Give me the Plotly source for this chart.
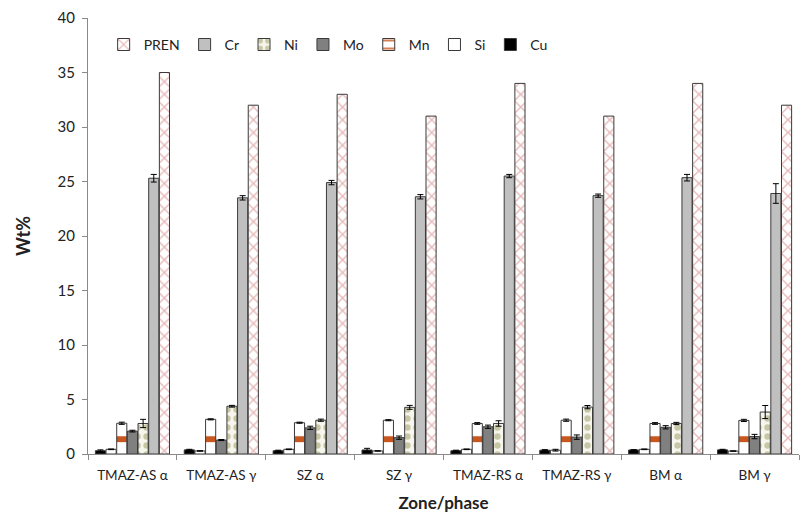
import plotly.graph_objects as go

zones = ["TMAZ-AS α", "TMAZ-AS γ", "SZ α", "SZ γ", "TMAZ-RS α", "TMAZ-RS γ", "BM α", "BM γ"]

cu = [0.30, 0.38, 0.30, 0.37, 0.30, 0.35, 0.37, 0.38]
cu_err = [0.08, 0.05, 0.05, 0.15, 0.05, 0.05, 0.03, 0.05]
si = [0.43, 0.28, 0.43, 0.28, 0.43, 0.35, 0.43, 0.27]
si_err = [0.03, 0.02, 0.03, 0.02, 0.03, 0.08, 0.03, 0.02]
mn = [2.82, 3.18, 2.87, 3.10, 2.80, 3.10, 2.80, 3.08]
mn_err = [0.10, 0.05, 0.05, 0.05, 0.08, 0.10, 0.08, 0.10]
mo = [2.10, 1.28, 2.40, 1.50, 2.50, 1.55, 2.45, 1.60]
mo_err = [0.08, 0.05, 0.15, 0.15, 0.15, 0.20, 0.15, 0.20]
ni = [2.80, 4.38, 3.10, 4.28, 2.80, 4.30, 2.80, 3.85]
ni_err = [0.38, 0.08, 0.10, 0.18, 0.25, 0.15, 0.10, 0.60]
cr = [25.30, 23.50, 24.90, 23.60, 25.50, 23.70, 25.35, 23.90]
cr_err = [0.35, 0.20, 0.20, 0.20, 0.15, 0.15, 0.30, 0.90]
pren = [35, 32, 33, 31, 34, 31, 34, 32]

OUTLINE = "#3a3a3a"
fig = go.Figure()

def add_bar(name, vals, err, color, pattern=None):
    fig.add_trace(go.Bar(
        name=name, x=zones, y=vals,
        marker=dict(color=color, line=dict(color=OUTLINE, width=1), pattern=pattern),
        error_y=dict(type="data", array=err, visible=err is not None,
                     color="black", thickness=1, width=3),
    ))

add_bar("Cu", cu, cu_err, "#000000")
add_bar("Si", si, si_err, "#ffffff")
add_bar("Mn", mn, mn_err, "#ffffff",
        dict(shape="-", fgcolor="#c8561f", fgopacity=1, bgcolor="#ffffff",
             size=31.2, solidity=0.19, fillmode="overlay"))
add_bar("Mo", mo, mo_err, "#808080")
add_bar("Ni", ni, ni_err, "#f6f6ee",
        dict(shape=".", fgcolor="#9a985c", bgcolor="#f6f6ee", size=9, solidity=0.4, fillmode="overlay"))
add_bar("Cr", cr, cr_err, "#c0c0c0")
add_bar("PREN", pren, None, "#ffffff",
        dict(shape="x", fgcolor="#cf7676", bgcolor="#ffffff", size=9, solidity=0.3, fillmode="overlay"))

font = "Lato, sans-serif"
fig.update_layout(
    width=801, height=513,
    margin=dict(l=88, r=2, t=18, b=59),
    paper_bgcolor="white", plot_bgcolor="white",
    barmode="group", bargap=0.16, bargroupgap=0.05,
    font=dict(family=font, size=14, color="#222222"),
    showlegend=True,
    legend=dict(orientation="h", traceorder="reversed", x=0.022, y=0.975,
                xanchor="left", yanchor="top",
                font=dict(size=14), bgcolor="rgba(0,0,0,0)"),
)
fig.update_yaxes(
    range=[0, 40], dtick=5, showgrid=False, zeroline=False,
    showline=True, linecolor="#8a8a8a", linewidth=1,
    ticks="outside", ticklen=5, tickcolor="#8a8a8a",
    tickfont=dict(size=15), ticklabelstandoff=4,
    title=dict(text="<b>Wt%</b>", font=dict(size=18), standoff=22),
)
fig.update_xaxes(
    showgrid=False, showline=True, linecolor="#8a8a8a", linewidth=1,
    ticks="outside", ticklen=5, tickcolor="#8a8a8a", tickson="boundaries",
    tickfont=dict(size=13.5), ticklabelstandoff=9, automargin=False,
    title=dict(text="<b>Zone/phase</b>", font=dict(size=17), standoff=16),
)

fig.write_html("out.html")
